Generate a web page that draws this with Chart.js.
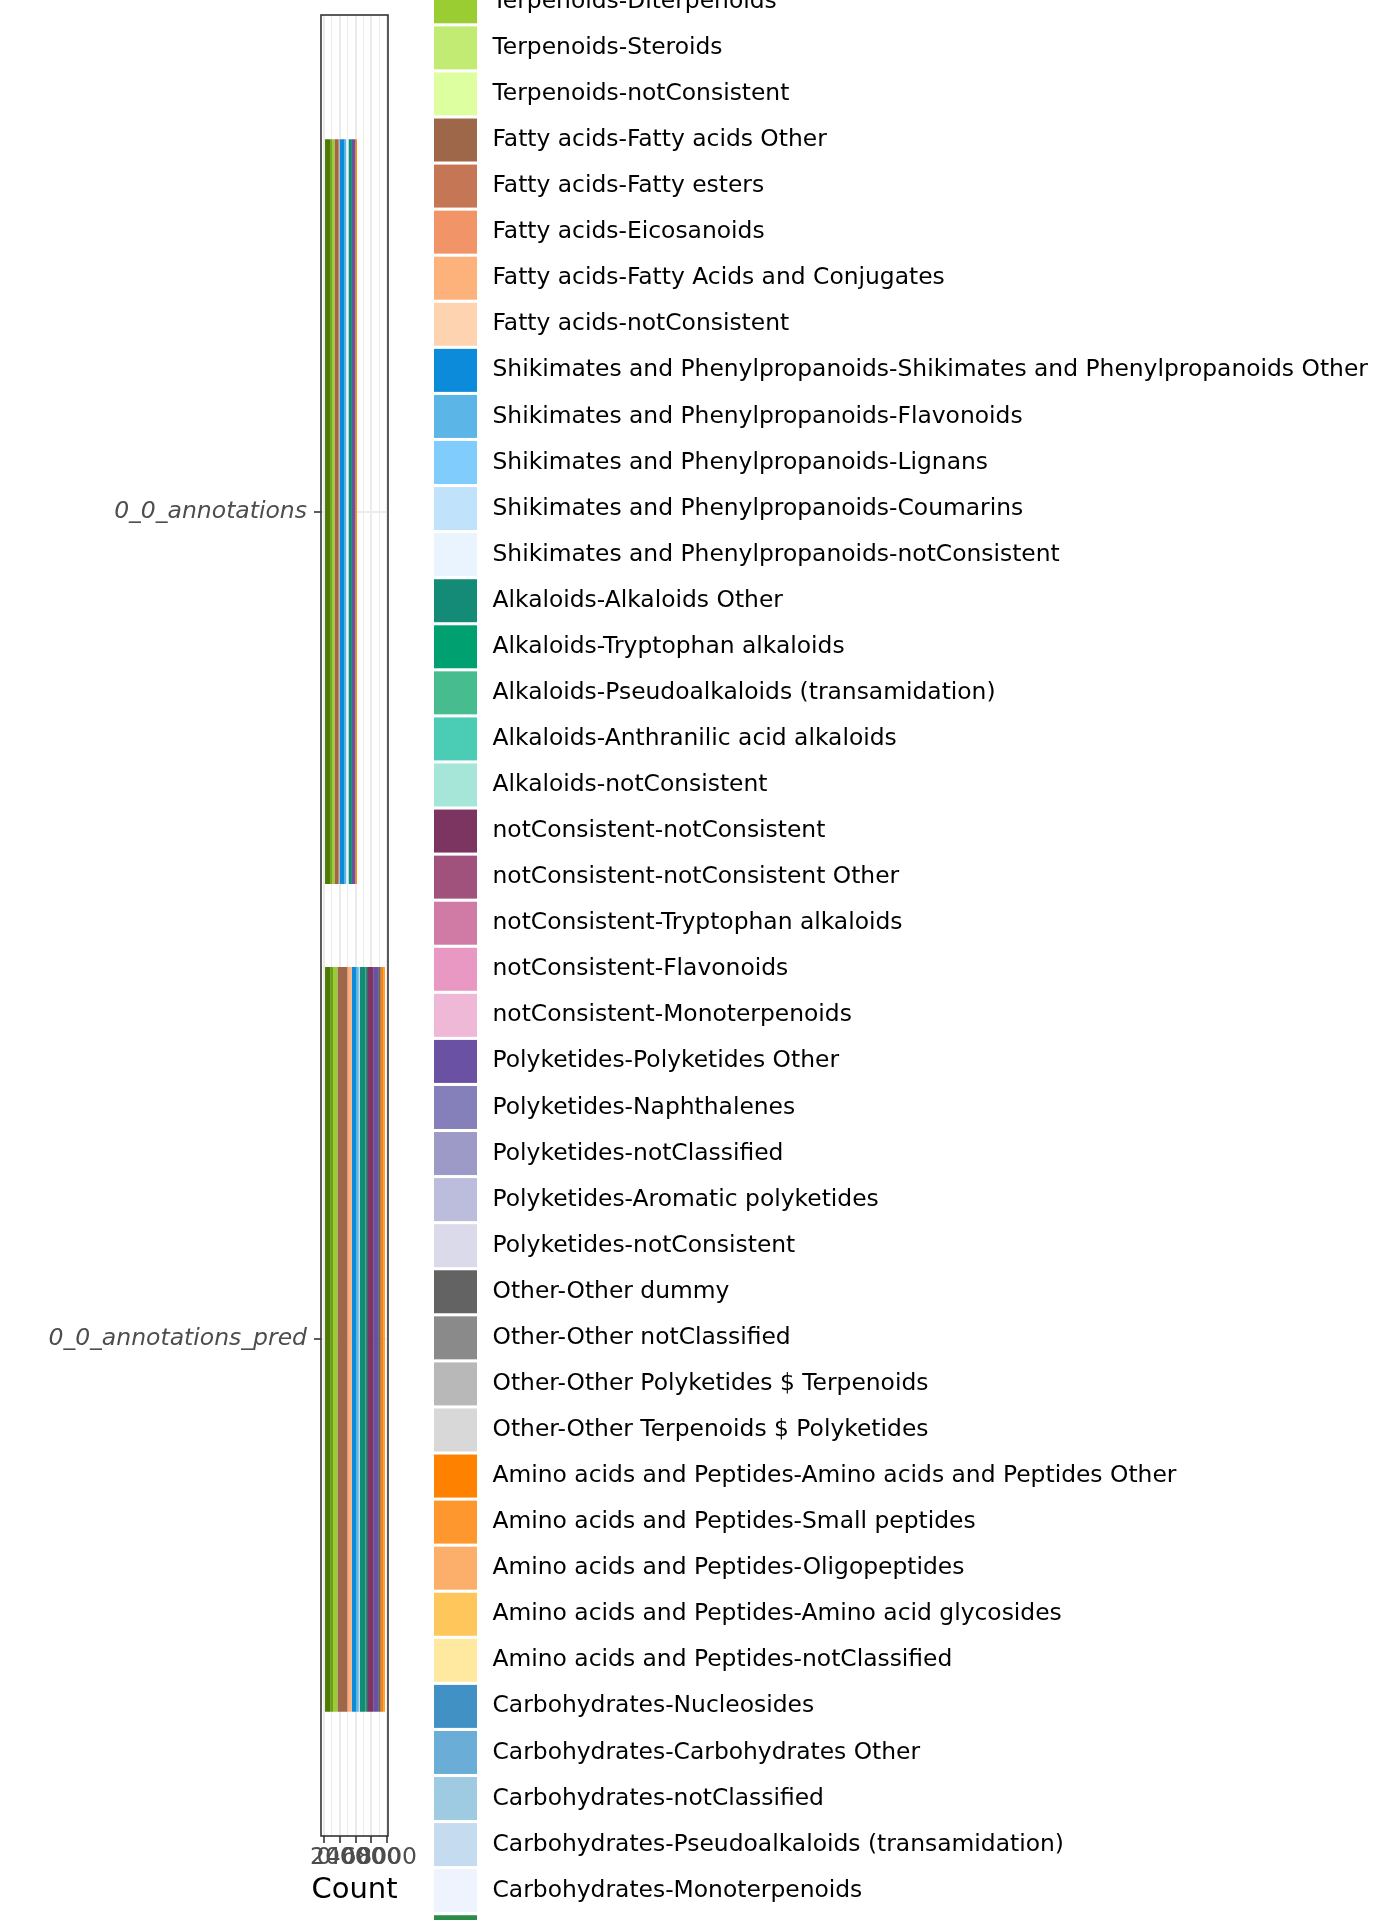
<!DOCTYPE html>
<html>
<head>
<meta charset="utf-8">
<script src="https://cdn.jsdelivr.net/npm/chart.js@4"></script>
<style>
html,body{margin:0;padding:0;background:#ffffff;}
canvas{display:block;}
</style>
</head>
<body>
<canvas id="c" width="1400" height="1920"></canvas>
<script>
const categories = ['0_0_annotations', '0_0_annotations_pred'];

const seriesNames = [
  'Terpenoids-Terpenoids Other',
  'Terpenoids-Monoterpenoids',
  'Terpenoids-Diterpenoids',
  'Terpenoids-Steroids',
  'Terpenoids-notConsistent',
  'Fatty acids-Fatty acids Other',
  'Fatty acids-Fatty esters',
  'Fatty acids-Eicosanoids',
  'Fatty acids-Fatty Acids and Conjugates',
  'Fatty acids-notConsistent',
  'Shikimates and Phenylpropanoids-Shikimates and Phenylpropanoids Other',
  'Shikimates and Phenylpropanoids-Flavonoids',
  'Shikimates and Phenylpropanoids-Lignans',
  'Shikimates and Phenylpropanoids-Coumarins',
  'Shikimates and Phenylpropanoids-notConsistent',
  'Alkaloids-Alkaloids Other',
  'Alkaloids-Tryptophan alkaloids',
  'Alkaloids-Pseudoalkaloids (transamidation)',
  'Alkaloids-Anthranilic acid alkaloids',
  'Alkaloids-notConsistent',
  'notConsistent-notConsistent',
  'notConsistent-notConsistent Other',
  'notConsistent-Tryptophan alkaloids',
  'notConsistent-Flavonoids',
  'notConsistent-Monoterpenoids',
  'Polyketides-Polyketides Other',
  'Polyketides-Naphthalenes',
  'Polyketides-notClassified',
  'Polyketides-Aromatic polyketides',
  'Polyketides-notConsistent',
  'Other-Other dummy',
  'Other-Other notClassified',
  'Other-Other Polyketides $ Terpenoids',
  'Other-Other Terpenoids $ Polyketides',
  'Amino acids and Peptides-Amino acids and Peptides Other',
  'Amino acids and Peptides-Small peptides',
  'Amino acids and Peptides-Oligopeptides',
  'Amino acids and Peptides-Amino acid glycosides',
  'Amino acids and Peptides-notClassified',
  'Carbohydrates-Nucleosides',
  'Carbohydrates-Carbohydrates Other',
  'Carbohydrates-notClassified',
  'Carbohydrates-Pseudoalkaloids (transamidation)',
  'Carbohydrates-Monoterpenoids',
  'Carbohydrates-Aminosugars and aminoglycosides'
];

const seriesColors = [
  '#4e7a02', '#6c9f14', '#9acd32', '#c1eb73', '#ddffa0',
  '#9f674a', '#c57755', '#f19468', '#fdb27c', '#fed4b0',
  '#0b8bd9', '#5cb5e7', '#80cdfd', '#c0e2fb', '#e9f4fe',
  '#138b76', '#00a071', '#47bc8f', '#4bcdb5', '#a5e6d8',
  '#7c3560', '#a1527c', '#d07aa6', '#e898c3', '#f0b8d7',
  '#6a51a3', '#8580ba', '#9e9ac8', '#bcbddc', '#dadaeb',
  '#636363', '#8a8a8a', '#b8b8b8', '#d8d8d8',
  '#ff8100', '#fe982e', '#fcaf6b', '#fec65b', '#ffe9a1',
  '#4191c5', '#6aaed7', '#9ecae2', '#c5dbf0', '#eef3fe',
  '#2b8b48'
];

const annotationsCounts = [
  783, 215, 316, 0, 0,
  543, 0, 0, 100, 0,
  630, 215, 0, 0, 290,
  442, 0, 0, 0, 0,
  0, 0, 0, 0, 0,
  417, 0, 0, 0, 0,
  0, 0, 0, 0,
  215, 0, 0, 0, 0,
  0, 0, 0, 0, 0,
  0
];

const predCounts = [
  830, 316, 543, 0, 0,
  1220, 60, 167, 380, 0,
  543, 340, 0, 0, 100,
  740, 215, 0, 0, 0,
  770, 0, 0, 0, 0,
  630, 0, 0, 0, 0,
  316, 0, 0, 0,
  379, 170, 0, 0, 0,
  0, 0, 0, 0, 0,
  0
];

const xMajorTicks = [0, 2000, 4000, 6000, 8000];
const xMinorTicks = [1000, 3000, 5000, 7000];
const xAxisTitle = 'Count';

const sum = a => a.reduce((s, v) => s + v, 0);
const maxTotal = Math.max(sum(annotationsCounts), sum(predCounts));

const datasets = seriesNames.map((name, i) => ({
  label: name,
  data: [
    { x: annotationsCounts[i], y: 0 },
    { x: predCounts[i], y: 1 }
  ],
  backgroundColor: seriesColors[i],
  borderWidth: 0,
  barPercentage: 0.9,
  categoryPercentage: 1.0
}));

const FONT = '"DejaVu Sans", "Liberation Sans", sans-serif';

const panelAndLegend = {
  id: 'panelAndLegend',
  beforeDraw(chart) {
    const ctx = chart.ctx;
    ctx.save();
    ctx.fillStyle = '#ffffff';
    ctx.fillRect(0, 0, chart.width, chart.height);
    ctx.restore();
  },
  afterDatasetsDraw(chart) {
    const { ctx, chartArea: a } = chart;
    ctx.save();
    ctx.strokeStyle = '#333333';
    ctx.lineWidth = 1.6;
    ctx.strokeRect(a.left, a.top, a.right - a.left, a.bottom - a.top);
    ctx.restore();
  },
  afterDraw(chart) {
    const { ctx, chartArea: a } = chart;
    const ds = chart.data.datasets;
    const n = ds.length;
    const rowH = 46.07;
    const key = 43;
    const midY = (a.top + a.bottom) / 2 - 2.3;
    const keyX = a.right + 46;
    const textX = keyX + key + 15.5;
    ctx.save();
    ctx.font = '23.4px ' + FONT;
    ctx.textBaseline = 'middle';
    ctx.textAlign = 'left';
    for (let i = 0; i < n; i++) {
      const y = midY + (i - (n - 1) / 2) * rowH;
      ctx.fillStyle = ds[i].backgroundColor;
      ctx.fillRect(keyX, y - key / 2, key, key);
      ctx.fillStyle = '#000000';
      ctx.fillText(ds[i].label, textX, y);
    }
    // x axis title
    ctx.font = '29px ' + FONT;
    ctx.textAlign = 'center';
    ctx.fillStyle = '#000000';
    ctx.fillText(xAxisTitle, (a.left + a.right) / 2, 1890);
    ctx.restore();
  }
};

new Chart(document.getElementById('c'), {
  type: 'bar',
  data: { datasets },
  plugins: [panelAndLegend],
  options: {
    indexAxis: 'y',
    responsive: false,
    devicePixelRatio: 1,
    animation: false,
    layout: { padding: { top: 15, right: 1012, left: 0, bottom: 0 } },
    plugins: { legend: { display: false }, tooltip: { enabled: false } },
    scales: {
      y: {
        type: 'linear',
        reverse: true,
        stacked: true,
        offset: false,
        min: -0.6,
        max: 1.6,
        afterBuildTicks: s => { s.ticks = categories.map((_, i) => ({ value: i })); },
        afterFit: s => { s.width = 321; s.paddingTop = 0; s.paddingBottom = 0; },
        ticks: {
          autoSkip: false,
          callback: v => (categories[v] !== undefined ? categories[v] : ''),
          font: { family: FONT, size: 23.5, style: 'italic' },
          color: '#4d4d4d',
          padding: 7
        },
        grid: { offset: false, color: '#ebebeb', lineWidth: 2, tickColor: '#333333', tickLength: 7, tickWidth: 1.6 },
        border: { display: false }
      },
      x: {
        type: 'linear',
        stacked: true,
        offset: false,
        min: -0.05 * maxTotal,
        max: 1.05 * maxTotal,
        afterBuildTicks: s => {
          s.ticks = xMajorTicks.concat(xMinorTicks)
            .filter(v => v >= s.min && v <= s.max)
            .sort((p, q) => p - q)
            .map(v => ({ value: v }));
        },
        afterFit: s => { s.height = 84; s.paddingLeft = 0; s.paddingRight = 0; },
        ticks: {
          autoSkip: false,
          maxRotation: 0,
          minRotation: 0,
          callback: v => (xMajorTicks.includes(v) ? String(v) : ''),
          font: { family: FONT, size: 23.5 },
          color: '#4d4d4d',
          padding: 1
        },
        grid: {
          offset: false,
          color: '#ebebeb',
          lineWidth: c => (c.tick && xMajorTicks.includes(c.tick.value)) ? 2 : 1,
          tickColor: c => (c.tick && xMajorTicks.includes(c.tick.value)) ? '#333333' : 'rgba(0,0,0,0)',
          tickLength: 7,
          tickWidth: 1.6
        },
        border: { display: false },
        title: { display: false }
      }
    }
  }
});
</script>
</body>
</html>
